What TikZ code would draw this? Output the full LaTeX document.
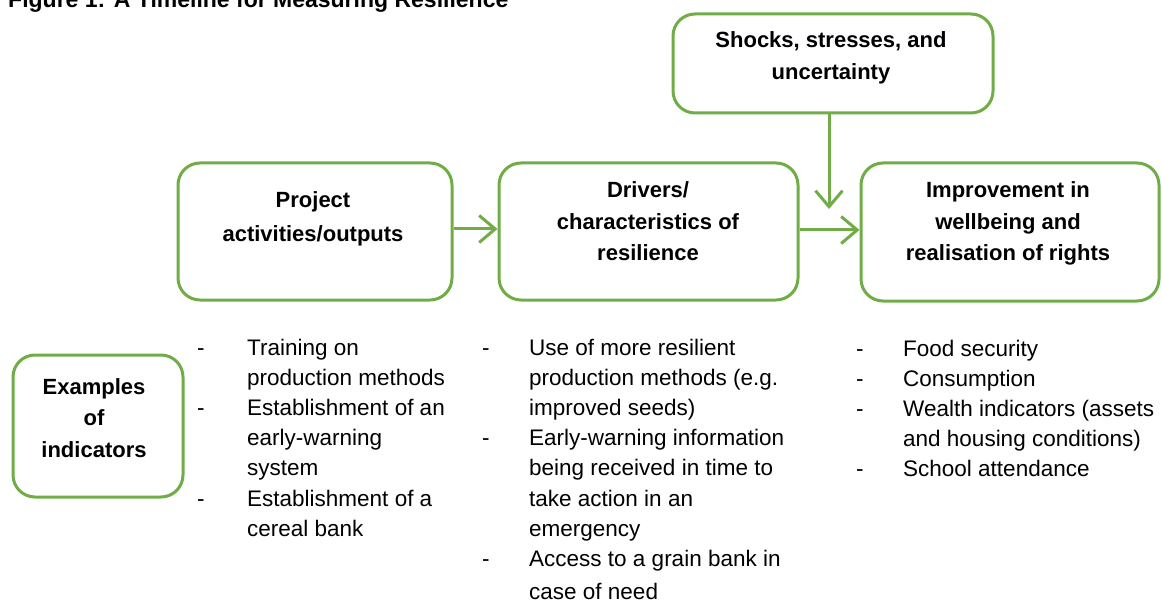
\documentclass[tikz,border=0pt]{standalone}
\usepackage{fontspec}
\setmainfont{Liberation Sans}
\usetikzlibrary{arrows.meta}
\definecolor{leaf}{RGB}{112,173,71}
\begin{document}
\begin{tikzpicture}[x=1pt,y=-1pt,
  box/.style={draw=leaf, line width=3pt, rounded corners=22pt, inner sep=0pt, fill=white},
  arr/.style={draw=leaf, line width=3pt, -{Straight Barb[length=16pt,width=27pt]}},
  lbl/.style={inner sep=0pt, anchor=base, font=\bfseries\fontsize{22}{31.5}\selectfont},
  list/.style={inner sep=0pt, anchor=base west, font=\fontsize{22.5}{30.2}\selectfont}]
% page
\path[use as bounding box, fill=white] (0,0) rectangle (1162,604);

% caption (runs off the top edge of the page)
\node[inner sep=0pt, anchor=base west, font=\bfseries\fontsize{23}{27}\selectfont]
  (title) at (8,7.5) {Figure 1: A Timeline for Measuring Resilience};

% boxes
\node[box, minimum width=320, minimum height=99]  (shocks) at (833,63.5) {};
\node[box, minimum width=274, minimum height=137] (proj)   at (315,231.5) {};
\node[box, minimum width=299, minimum height=137] (drv)    at (648.5,231.5) {};
\node[box, minimum width=298, minimum height=138] (impr)   at (1010,232) {};
\node[box, minimum width=170, minimum height=142] (ex)     at (98,426) {};

% box labels
\node[lbl] (shocksT) at (831,48) {\begin{tabular}[t]{@{}c@{}}Shocks, stresses, and\\uncertainty\end{tabular}};
\node[lbl, font=\bfseries\fontsize{22}{34}\selectfont] (projT) at (313,208)
  {\begin{tabular}[t]{@{}c@{}}Project\\activities/outputs\end{tabular}};
\node[lbl] (drvT) at (648,198) {\begin{tabular}[t]{@{}c@{}}Drivers/\\characteristics of\\resilience\end{tabular}};
\node[lbl] (imprT) at (1008,198) {\begin{tabular}[t]{@{}c@{}}Improvement in\\wellbeing and\\realisation of rights\end{tabular}};
\node[lbl] (exT) at (94,394) {\begin{tabular}[t]{@{}c@{}}Examples\\of\\indicators\end{tabular}};

% connectors
\draw[arr] (proj.east |- 0,229) -- (drv.west |- 0,229);
\draw[arr] (drv.east |- 0,230) -- (impr.west |- 0,230);
\coordinate (drop) at (829,209);
\draw[arr] (shocks.south -| drop) -- (drop);

% indicator lists
\node[list] (col1) at (197,355) {\begin{tabular}[t]{@{}p{50pt}@{}l@{}}
- & Training on\\
  & production methods\\
- & Establishment of an\\
  & early-warning\\
  & system\\
- & Establishment of a\\
  & cereal bank
\end{tabular}};
\node[list] (col2) at (482,355) {\begin{tabular}[t]{@{}p{47pt}@{}l@{}}
- & Use of more resilient\\
  & production methods (e.g.\\
  & improved seeds)\\
- & Early-warning information\\
  & being received in time to\\
  & take action in an\\
  & emergency\\
- & Access to a grain bank in\\[3pt]
  & case of need
\end{tabular}};
\node[list] (col3) at (856,356) {\begin{tabular}[t]{@{}p{47pt}@{}l@{}}
- & Food security\\
- & Consumption\\
- & Wealth indicators (assets\\
  & and housing conditions)\\
- & School attendance
\end{tabular}};
\end{tikzpicture}
\end{document}
